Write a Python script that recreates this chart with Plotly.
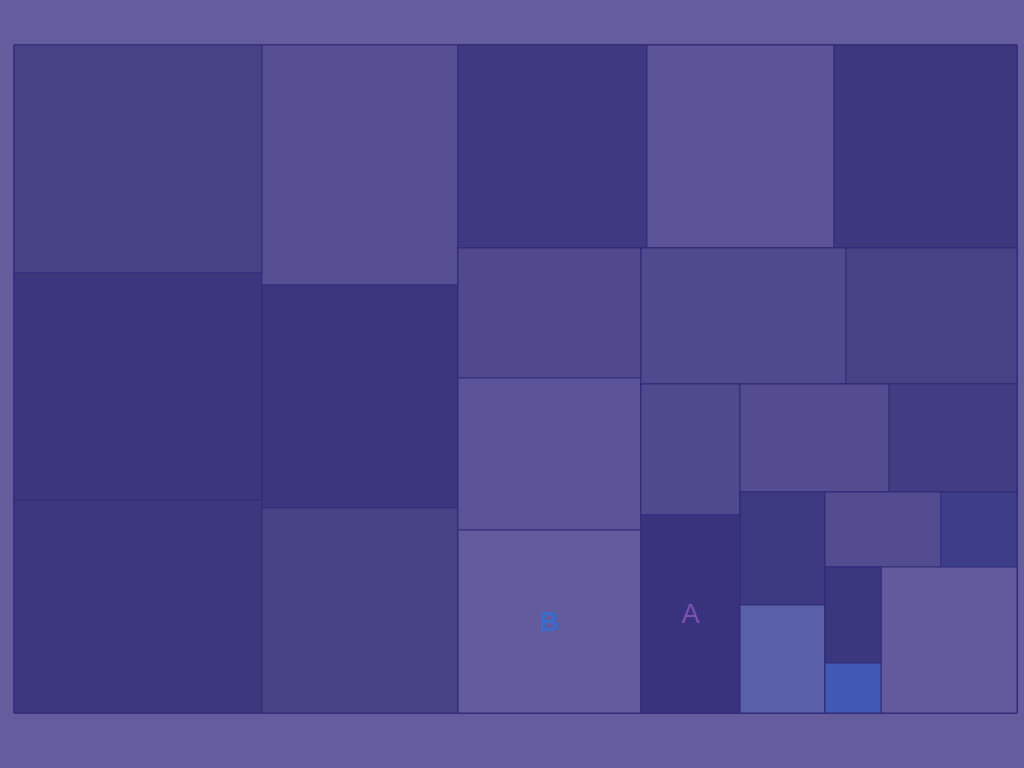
import plotly.graph_objects as go

# Hierarchy (grouping nodes only arrange the tiles; they carry no value of their own)
group_ids = ["root", "c1", "c2", "R1", "row7", "R2", "c10", "R3", "row13", "R4",
             "c15", "R5", "row17", "R6", "c19", "R7", "row21", "R8", "c23"]
group_parents = ["", "root", "root", "root", "R1", "R1", "R2", "R2", "R3", "R3",
                 "R4", "R4", "R5", "R5", "R6", "R6", "R7", "R7", "R8"]

# Leaf tiles
leaf_ids = ["t1", "t2", "t3", "t4", "t5", "t6", "t7", "t8", "t9", "t10", "t11", "t12",
            "t13", "t14", "t15", "t16", "t17", "t18", "t19", "t20", "t21", "t22",
            "t23", "t24", "t25"]
leaf_parents = ["c1", "c1", "c1", "c2", "c2", "c2", "row7", "row7", "row7",
                "c10", "c10", "c10", "row13", "row13", "c15", "c15",
                "row17", "row17", "c19", "c19", "row21", "row21", "c23", "c23", "R8"]
leaf_values = [56544, 56296, 52824, 47040, 43708, 40180, 38367, 37961, 37149,
               23790, 27816, 33489, 27880, 23256, 12969, 19602, 16092, 13824,
               9605, 9180, 8700, 5700, 5376, 2800, 19856]
leaf_labels = ["", "", "", "", "", "", "", "", "", "", "", "<b>B</b>",
               "", "", "", "A", "", "", "", "", "", "", "", "", ""]

# Styles
leaf_colors = ["#474186", "#3c367c", "#3d377e", "#574f94", "#3c367c", "#474186",
               "#3e3880", "#5b5498", "#3d377e", "#51498e", "#5b5498", "#635b9d",
               "#4f498d", "#474186", "#4f498d", "#39337e", "#534c90", "#423c82",
               "#3d3980", "#5960a8", "#534c90", "#3e3e88", "#3b377e", "#4259b4",
               "#625a9c"]
label_colors = {"<b>B</b>": "#3a6ccb", "A": "#7b52b0"}
bg = "#655c9e"

ids = group_ids + leaf_ids
parents = group_parents + leaf_parents
values = [0] * len(group_ids) + leaf_values
texts = [""] * len(group_ids) + leaf_labels
colors = [bg] * len(group_ids) + leaf_colors
text_colors = [label_colors.get(t, "rgba(0,0,0,0)") for t in texts]

fig = go.Figure(go.Treemap(
    ids=ids,
    labels=ids,
    parents=parents,
    values=values,
    text=texts,
    branchvalues="remainder",
    sort=False,
    textinfo="text",
    texttemplate="%{text}",
    textposition="middle center",
    textfont=dict(size=27, color=text_colors, family="Liberation Sans"),
    marker=dict(colors=colors, line=dict(color="#312d7a", width=1),
                pad=dict(t=0, l=0, r=0, b=0), depthfade=False),
    tiling=dict(packing="slice-dice", pad=0),
    pathbar=dict(visible=False),
    hoverinfo="skip",
))

fig.update_layout(
    width=1024, height=768,
    margin=dict(l=14, r=7, t=45, b=55),
    paper_bgcolor=bg,
    plot_bgcolor=bg,
    showlegend=False,
)

fig.write_html("out.html")
